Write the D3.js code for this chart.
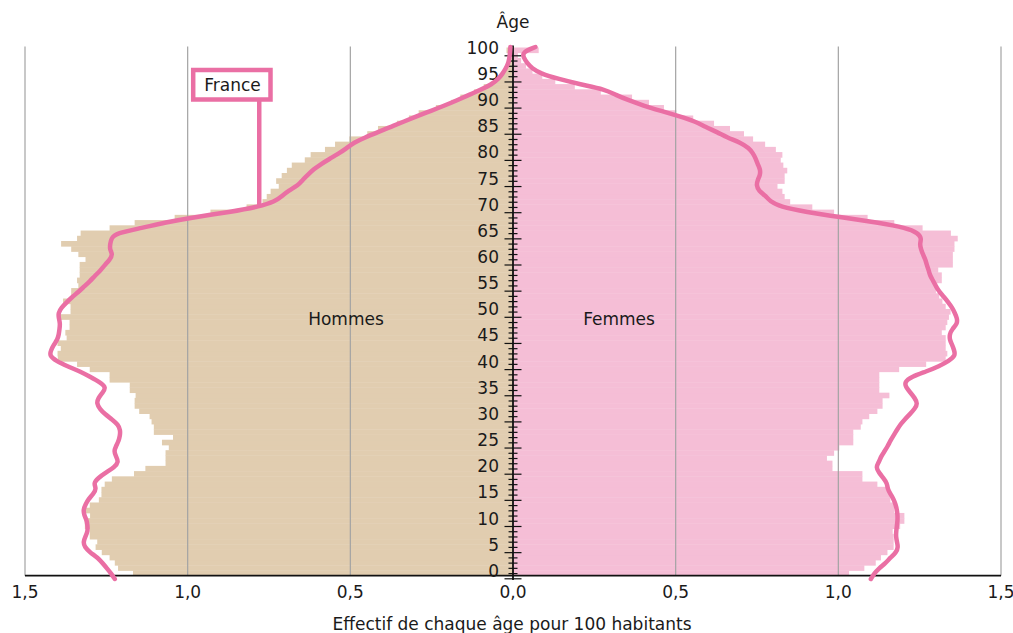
<!DOCTYPE html>
<meta charset="utf-8">
<style>
    body { margin: 0; background: #fff; }
    text { font-family: "DejaVu Sans", sans-serif; font-size: 17px; fill: #1a1a1a; }
</style>
<body>
<div id="chart"></div>

<script src="https://cdn.jsdelivr.net/npm/d3@7"></script>
<script>
    // values for each age 0..100 (effectif pour 100 habitants)
    var ages = d3.range(0, 101);

    var hommes = [1.168, 1.214, 1.224, 1.24, 1.264, 1.283, 1.278, 1.301, 1.301, 1.316,
        1.316, 1.30, 1.316, 1.301, 1.273, 1.265, 1.265, 1.255, 1.233, 1.165,
        1.13, 1.068, 1.068, 1.068, 1.058, 1.079, 1.045, 1.104, 1.104, 1.111,
        1.117, 1.149, 1.163, 1.163, 1.16, 1.178, 1.178, 1.24, 1.24, 1.301,
        1.34, 1.399, 1.40, 1.39, 1.40, 1.372, 1.376, 1.363, 1.363, 1.396,
        1.36, 1.36, 1.383, 1.358, 1.358, 1.336, 1.34, 1.332, 1.332, 1.332,
        1.314, 1.336, 1.358, 1.389, 1.34, 1.329, 1.24, 1.163, 1.04, 0.93,
        0.819, 0.77, 0.757, 0.745, 0.72, 0.728, 0.711, 0.695, 0.68, 0.64,
        0.622, 0.578, 0.547, 0.503, 0.448, 0.415, 0.357, 0.32, 0.29, 0.237,
        0.19, 0.162, 0.12, 0.09, 0.06, 0.04, 0.025, 0.015, 0.01, 0.005,
        0.02];

    var femmes = [1.033, 1.08, 1.115, 1.131, 1.151, 1.17, 1.17, 1.17, 1.167, 1.19,
        1.203, 1.203, 1.172, 1.172, 1.16, 1.16, 1.151, 1.12, 1.074, 1.074,
        0.982, 0.982, 0.965, 0.987, 1.003, 1.046, 1.046, 1.046, 1.069, 1.074,
        1.095, 1.12, 1.136, 1.136, 1.157, 1.126, 1.126, 1.126, 1.126, 1.187,
        1.27, 1.33, 1.335, 1.33, 1.33, 1.33, 1.318, 1.33, 1.335, 1.34,
        1.345, 1.33, 1.32, 1.31, 1.30, 1.304, 1.318, 1.318, 1.307, 1.352,
        1.352, 1.352, 1.357, 1.357, 1.367, 1.346, 1.259, 1.172, 1.09, 0.987,
        0.92, 0.852, 0.835, 0.828, 0.813, 0.835, 0.835, 0.843, 0.831, 0.823,
        0.828, 0.808, 0.775, 0.738, 0.71, 0.667, 0.618, 0.554, 0.502, 0.464,
        0.418, 0.366, 0.27, 0.19, 0.13, 0.09, 0.06, 0.04, 0.025, 0.015,
        0.079];

    // France, reference line
    var franceHommes = [1.224, 1.235, 1.248, 1.262, 1.276, 1.30, 1.317, 1.321, 1.314, 1.307,
        1.308, 1.31, 1.318, 1.321, 1.314, 1.305, 1.29, 1.28, 1.29, 1.275,
        1.252, 1.225, 1.212, 1.22, 1.227, 1.22, 1.212, 1.208, 1.207, 1.214,
        1.232, 1.255, 1.27, 1.28, 1.275, 1.262, 1.25, 1.27, 1.30, 1.33,
        1.37, 1.405, 1.425, 1.42, 1.412, 1.40, 1.396, 1.394, 1.392, 1.396,
        1.398, 1.388, 1.372, 1.355, 1.335, 1.318, 1.30, 1.285, 1.268, 1.255,
        1.24, 1.23, 1.24, 1.238, 1.235, 1.22, 1.14, 1.07, 0.98, 0.87,
        0.78, 0.73, 0.71, 0.69, 0.66, 0.647, 0.63, 0.613, 0.59, 0.563,
        0.535, 0.511, 0.49, 0.455, 0.415, 0.375, 0.335, 0.295, 0.252, 0.21,
        0.172, 0.135, 0.098, 0.065, 0.045, 0.032, 0.022, 0.014, 0.011, 0.009,
        0.008];

    var franceFemmes = [1.10, 1.11, 1.125, 1.145, 1.16, 1.178, 1.184, 1.18, 1.177, 1.178,
        1.18, 1.182, 1.182, 1.18, 1.176, 1.17, 1.16, 1.151, 1.15, 1.138,
        1.125, 1.115, 1.125, 1.131, 1.142, 1.152, 1.16, 1.17, 1.18, 1.19,
        1.204, 1.22, 1.235, 1.244, 1.235, 1.222, 1.208, 1.203, 1.225, 1.27,
        1.31, 1.34, 1.36, 1.356, 1.35, 1.342, 1.342, 1.35, 1.366, 1.365,
        1.358, 1.35, 1.338, 1.325, 1.31, 1.30, 1.292, 1.282, 1.278, 1.272,
        1.268, 1.26, 1.254, 1.25, 1.256, 1.245, 1.21, 1.12, 1.01, 0.90,
        0.82, 0.79, 0.777, 0.755, 0.748, 0.752, 0.76, 0.76, 0.752, 0.746,
        0.738, 0.725, 0.70, 0.658, 0.628, 0.59, 0.561, 0.51, 0.455, 0.40,
        0.355, 0.315, 0.285, 0.205, 0.14, 0.085, 0.058, 0.043, 0.033, 0.028,
        0.069];

    var xTicks = [0, 0.5, 1.0, 1.5];
    var ageTicks = d3.range(0, 101, 5);

    var width = 1013,
        height = 633,
        cx = 513;

    var svg = d3.select('#chart').append("svg")
        .attr("width", width)
        .attr("height", height);

    var xL = d3.scaleLinear().domain([0, 1.5]).range([cx, 25]);
    var xR = d3.scaleLinear().domain([0, 1.5]).range([cx, 1001]);
    var yBar = d3.scaleLinear().domain([0, 101]).range([575.7, 47.5]);
    var yTick = d3.scaleLinear().domain([0, 100]).range([578.8, 55.8]);
    var yLine = d3.scaleLinear().domain([0, 100]).range([579, 47]);

    var fr = d3.formatLocale({decimal: ",", thousands: " ", grouping: [3], currency: ["", " €"]});
    var fmt = fr.format(".1f");

    var lineColor = "#ea6fa4";

    // bars
    svg.append("defs").append("clipPath").attr("id", "clip")
        .append("rect").attr("x", 0).attr("y", 0).attr("width", width).attr("height", 575.7);

    var bars = svg.append("g").attr("clip-path", "url(#clip)");

    bars.selectAll(".h")
        .data(ages)
        .enter().append("rect")
        .attr("class", "h")
        .attr("x", function (d) { return xL(hommes[d]); })
        .attr("y", function (d) { return yBar(d + 1); })
        .attr("width", function (d) { return cx - xL(hommes[d]); })
        .attr("height", function (d) { return yBar(d) - yBar(d + 1) + 0.4; })
        .attr("fill", "#e1cdb0");

    bars.selectAll(".f")
        .data(ages)
        .enter().append("rect")
        .attr("class", "f")
        .attr("x", cx)
        .attr("y", function (d) { return yBar(d + 1); })
        .attr("width", function (d) { return xR(femmes[d]) - cx; })
        .attr("height", function (d) { return yBar(d) - yBar(d + 1) + 0.4; })
        .attr("fill", "#f5bed6");

    // grid
    var gridVals = xTicks.filter(function (d) { return d > 0; });
    svg.selectAll(".gl")
        .data(gridVals)
        .enter().append("line")
        .attr("x1", function (d) { return xL(d); })
        .attr("x2", function (d) { return xL(d); })
        .attr("y1", 46.5).attr("y2", 575.7)
        .attr("stroke", "#a3a3a3").attr("stroke-width", 1.2);
    svg.selectAll(".gr")
        .data(gridVals)
        .enter().append("line")
        .attr("x1", function (d) { return xR(d); })
        .attr("x2", function (d) { return xR(d); })
        .attr("y1", 46.5).attr("y2", 575.7)
        .attr("stroke", "#a3a3a3").attr("stroke-width", 1.2);

    // x axis
    svg.append("line")
        .attr("x1", xL(1.5)).attr("x2", xR(1.5))
        .attr("y1", 575.7).attr("y2", 575.7)
        .attr("stroke", "#111").attr("stroke-width", 1.8);

    svg.selectAll(".xl")
        .data(xTicks.filter(function (d) { return d > 0; }))
        .enter().append("text")
        .attr("x", function (d) { return xL(d); })
        .attr("y", 598)
        .attr("text-anchor", "middle")
        .text(function (d) { return fmt(d); });
    svg.selectAll(".xr")
        .data(xTicks)
        .enter().append("text")
        .attr("x", function (d) { return xR(d); })
        .attr("y", 598)
        .attr("text-anchor", "middle")
        .text(function (d) { return fmt(d); });

    svg.append("text")
        .attr("x", cx - 1).attr("y", 630)
        .attr("text-anchor", "middle")
        .text("Effectif de chaque âge pour 100 habitants");

    // age axis
    svg.append("line")
        .attr("x1", cx).attr("x2", cx)
        .attr("y1", 45.5).attr("y2", 580)
        .attr("stroke", "#111").attr("stroke-width", 1.8);

    svg.selectAll(".tk")
        .data(ages)
        .enter().append("line")
        .attr("x1", function (d) { return d % 5 == 0 ? cx - 8.5 : cx - 4.5; })
        .attr("x2", function (d) { return d % 5 == 0 ? cx + 8.5 : cx + 4.5; })
        .attr("y1", function (d) { return yTick(d); })
        .attr("y2", function (d) { return yTick(d); })
        .attr("stroke", "#111").attr("stroke-width", 1.2);

    svg.selectAll(".al")
        .data(ageTicks)
        .enter().append("text")
        .attr("x", 499)
        .attr("y", function (d) { return yTick(d) - 2; })
        .attr("text-anchor", "end")
        .text(function (d) { return d; });

    svg.append("text")
        .attr("x", cx).attr("y", 28)
        .attr("text-anchor", "middle")
        .text("Âge");

    // France lines
    var lineH = d3.line()
        .x(function (d) { return xL(franceHommes[d]); })
        .y(function (d) { return yLine(d); })
        .curve(d3.curveBasis);
    var lineF = d3.line()
        .x(function (d) { return xR(franceFemmes[d]); })
        .y(function (d) { return yLine(d); })
        .curve(d3.curveBasis);

    svg.append("path")
        .attr("d", lineH(ages))
        .attr("fill", "none")
        .attr("stroke", lineColor)
        .attr("stroke-width", 4.5)
        .attr("stroke-linecap", "round")
        .attr("stroke-linejoin", "round");
    svg.append("path")
        .attr("d", lineF(ages))
        .attr("fill", "none")
        .attr("stroke", lineColor)
        .attr("stroke-width", 4.5)
        .attr("stroke-linecap", "round")
        .attr("stroke-linejoin", "round");

    // France label
    var ax = xL(franceHommes[70]), ay = yLine(70);
    svg.append("line")
        .attr("x1", ax).attr("x2", ax)
        .attr("y1", 99).attr("y2", ay)
        .attr("stroke", lineColor).attr("stroke-width", 4.5);
    svg.append("rect")
        .attr("x", 193.2).attr("y", 70)
        .attr("width", 77.3).attr("height", 29.5)
        .attr("fill", "#fff")
        .attr("stroke", lineColor).attr("stroke-width", 4.5);
    svg.append("text")
        .attr("x", 232.5).attr("y", 90.5)
        .attr("text-anchor", "middle")
        .text("France");

    svg.append("text")
        .attr("x", 346).attr("y", 325)
        .attr("text-anchor", "middle")
        .text("Hommes");
    svg.append("text")
        .attr("x", 619).attr("y", 325)
        .attr("text-anchor", "middle")
        .text("Femmes");
</script>
